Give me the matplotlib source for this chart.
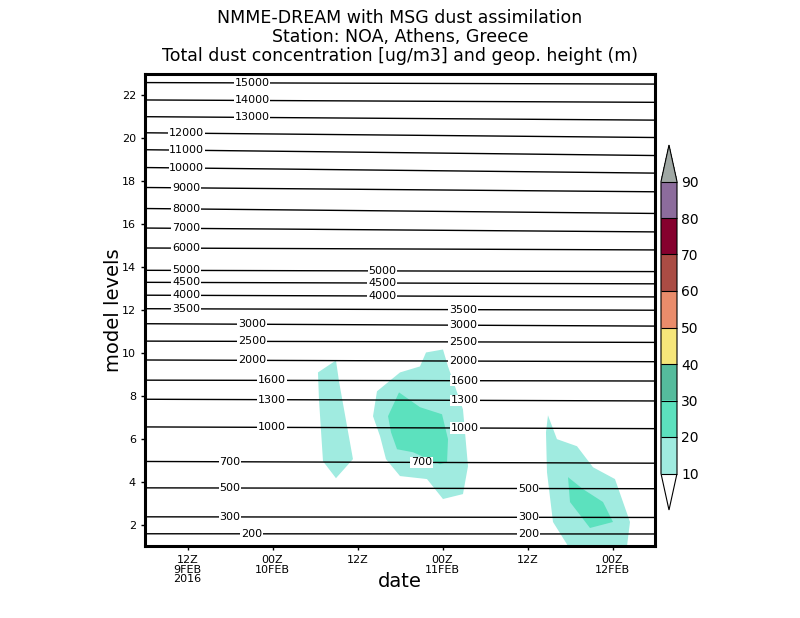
import numpy as np
import matplotlib
matplotlib.use("Agg")
import matplotlib.pyplot as plt
from matplotlib.colors import ListedColormap, BoundaryNorm
import matplotlib.colorbar as mcolorbar

# time axis: hours since 06Z 9FEB2016
tick_hours = [6, 18, 30, 42, 54, 66]
tick_labels = ["12Z\n9FEB\n2016", "00Z\n10FEB", "12Z", "00Z\n11FEB", "12Z", "00Z\n12FEB"]

# geopotential height contours: model level at start (06Z 9FEB) and end (06Z 12FEB)
heights = [15000, 14000, 13000, 12000, 11000, 10000, 9000, 8000, 7000, 6000,
           5000, 4500, 4000, 3500, 3000, 2500, 2000, 1600, 1300, 1000, 700, 500, 300, 200]
lev_start = [22.60, 21.79, 21.01, 20.26, 19.47, 18.64, 17.71, 16.73, 15.82, 14.89,
             13.85, 13.29, 12.69, 12.06, 11.36, 10.55, 9.67, 8.73, 7.84, 6.55, 4.94, 3.71, 2.36, 1.57]
lev_end = [22.53, 21.68, 20.85, 20.04, 19.20, 18.38, 17.51, 16.50, 15.64, 14.80,
           13.79, 13.22, 12.61, 11.99, 11.25, 10.49, 9.59, 8.69, 7.76, 6.47, 4.86, 3.67, 2.33, 1.56]
label_hours = [[15.1], [15.1], [15.1], [5.9], [5.9], [5.9], [5.8], [5.8], [5.8], [5.8],
               [5.8, 33.5], [5.8, 33.5], [5.8, 33.5], [5.8, 44.9], [15.1, 44.9], [15.1, 44.9],
               [15.1, 44.9], [17.9, 45.2], [17.9, 45.2], [17.9, 45.2], [12.0, 39.0],
               [12.0, 54.1], [12.0, 54.1], [15.0, 54.1]]

# dust concentration areas (hour, model level)
dust_a_10 = [(24.42, 9.09), (26.96, 9.65), (27.39, 8.67), (29.36, 5.05), (26.96, 4.16),
             (25.13, 4.95), (24.56, 7.84)]
dust_b_10 = [(32.19, 7.05), (32.75, 8.21), (36.0, 9.09), (38.82, 9.37), (39.67, 10.02),
             (42.07, 10.16), (42.78, 9.37), (44.89, 7.37), (45.60, 4.72), (44.89, 3.42),
             (42.07, 3.19), (39.81, 4.12), (36.0, 4.26), (34.02, 5.05), (33.18, 6.12)]
dust_b_20 = [(34.31, 7.05), (35.86, 8.16), (38.82, 7.47), (41.93, 7.14), (42.78, 5.98),
             (42.64, 4.91), (41.65, 4.81), (37.84, 5.37), (35.58, 5.51), (34.73, 6.30)]
dust_c_10 = [(56.89, 7.09), (58.16, 5.98), (60.99, 5.65), (63.25, 4.67), (66.35, 4.12),
             (68.47, 2.12), (68.05, 1.0), (59.72, 1.0), (57.60, 2.12), (56.75, 4.44),
             (56.61, 6.30)]
dust_c_20 = [(59.72, 4.21), (61.84, 3.65), (64.66, 3.05), (66.07, 2.12), (62.82, 1.84),
             (60.0, 3.05)]

cb_levels = [10, 20, 30, 40, 50, 60, 70, 80, 90]
cb_colors = ["#a0ebe0", "#5ce1be", "#55bb9c", "#f6e67a", "#ea8c6b", "#aa4c44",
             "#85002e", "#8c6c9c"]

fig = plt.figure(figsize=(8, 6.18), dpi=100)
ax = fig.add_axes([145 / 800, 72 / 618, 510 / 800, 472 / 618])

for poly, c in [(dust_a_10, cb_colors[0]), (dust_b_10, cb_colors[0]), (dust_b_20, cb_colors[1]),
                (dust_c_10, cb_colors[0]), (dust_c_20, cb_colors[1])]:
    xs, ys = zip(*poly)
    ax.fill(xs, ys, color=c, lw=0, zorder=1)

t_end = [0, 72]
for h, l0, l1, lh in zip(heights, lev_start, lev_end, label_hours):
    ax.plot(t_end, [l0, l1], color="black", lw=1.0, zorder=2)
    for th in lh:
        yy = np.interp(th, t_end, [l0, l1])
        ax.text(th, yy, str(h), ha="center", va="center", fontsize=8, zorder=3,
                bbox=dict(facecolor="white", edgecolor="none", pad=0.6))

ax.set_xlim(0, 72)
ax.set_ylim(1, 23)
ax.set_xticks(tick_hours)
ax.set_xticklabels(tick_labels, fontsize=8, linespacing=0.95)
ax.set_yticks(range(2, 23, 2))
ax.tick_params(axis="both", direction="out", length=3, width=1, labelsize=8)
for s in ax.spines.values():
    s.set_linewidth(2.2)
ax.set_xlabel("date", fontsize=14)
ax.set_ylabel("model levels", fontsize=14)
ax.xaxis.set_label_coords(0.5, -0.055)
ax.yaxis.set_label_coords(-0.043, 0.5)

fig.text(0.5, 1 - 18 / 618, "NMME-DREAM with MSG dust assimilation", ha="center", va="center", fontsize=12.5)
fig.text(0.5, 1 - 37 / 618, "Station: NOA, Athens, Greece", ha="center", va="center", fontsize=12.5)
fig.text(0.5, 1 - 56 / 618, "Total dust concentration [ug/m3] and geop. height (m)",
         ha="center", va="center", fontsize=12.5)

cmap = ListedColormap(cb_colors)
cmap.set_over("#a0a8a4")
cmap.set_under("white")
norm = BoundaryNorm(cb_levels, cmap.N)
cax = fig.add_axes([661 / 800, (618 - 510) / 618, 16 / 800, 365 / 618])
cb = mcolorbar.ColorbarBase(cax, cmap=cmap, norm=norm, extend="both", extendfrac=0.125,
                            ticks=cb_levels, drawedges=True)
cb.outline.set_linewidth(0.8)
cb.dividers.set_linewidth(0.8)
cax.tick_params(length=0, labelsize=10, pad=3)

fig.savefig("out.png", dpi=100)
